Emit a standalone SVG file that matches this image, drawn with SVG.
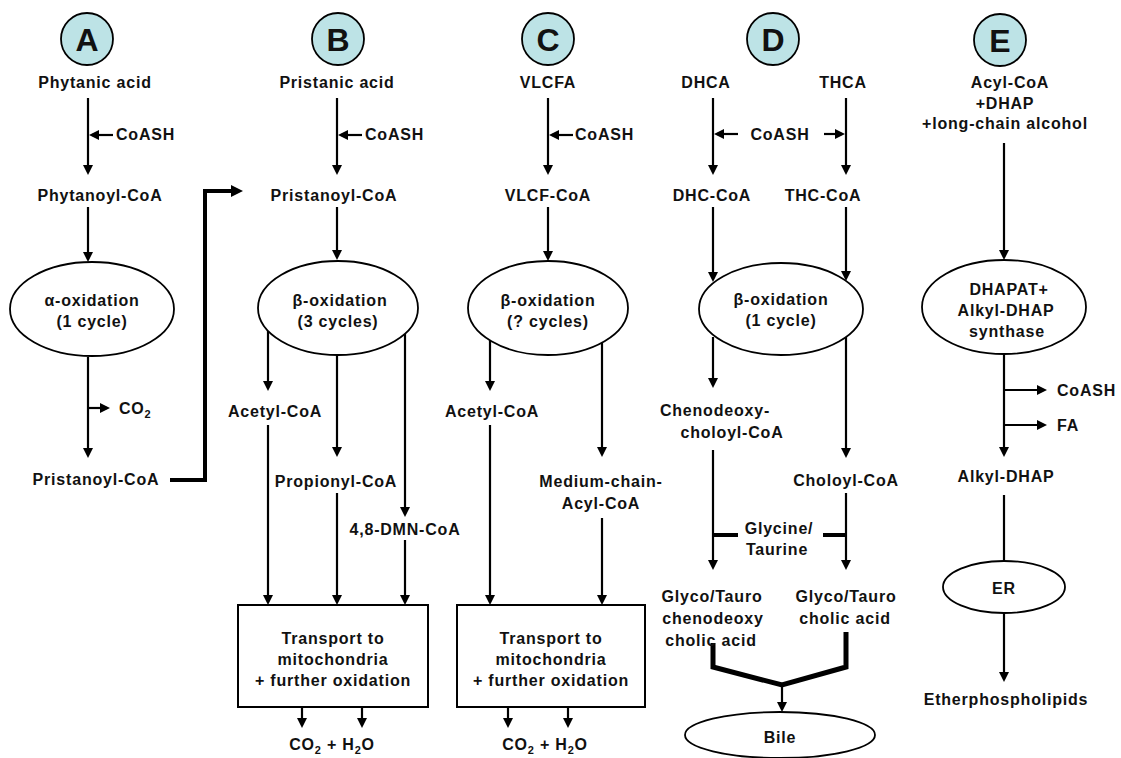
<svg xmlns="http://www.w3.org/2000/svg" width="1121" height="758" viewBox="0 0 1121 758">
<style>
.t{font-family:"Liberation Sans",Arial,Helvetica,sans-serif;font-weight:bold;font-size:16px;letter-spacing:0.8px;text-anchor:middle;fill:#111}
.st{text-anchor:start}
.lt{font-family:"Liberation Sans",Arial,Helvetica,sans-serif;font-weight:bold;font-size:32px;text-anchor:middle;fill:#111}
.ln{stroke:#000;stroke-width:2.2;fill:none}
.ar{marker-end:url(#ah)}
.tk{stroke:#000;stroke-width:4;fill:none}
.tk5{stroke:#000;stroke-width:5;fill:none;stroke-linejoin:miter}
.el{fill:#fff;stroke:#000;stroke-width:1.8}
.bx{fill:#fff;stroke:#000;stroke-width:2}
.lc{fill:#bde3e6;stroke:#000;stroke-width:1.8}
.sub{font-size:11px}
</style>
<defs>
<marker id="ah" viewBox="0 0 10 10" refX="7" refY="5" markerWidth="10" markerHeight="10.5" orient="auto" markerUnits="userSpaceOnUse"><path d="M0,0 L10,5 L0,10 z" fill="#000"/></marker>
<marker id="ahb" viewBox="0 0 12 12" refX="8" refY="6" markerWidth="12" markerHeight="12" orient="auto" markerUnits="userSpaceOnUse"><path d="M0,0 L12,6 L0,12 z" fill="#000"/></marker>
</defs>
<g id="connectors">
<!-- A -->
<path class="ln ar" d="M88,98 V172"/>
<path class="ln ar" d="M113,135 H92"/>
<path class="ln ar" d="M88,207 V259"/>
<path class="ln ar" d="M88,357 V455"/>
<path class="ln ar" d="M88,408 H107"/>
<path class="tk" d="M170,480 H205 V191 H239" marker-end="url(#ahb)"/>
<!-- B -->
<path class="ln ar" d="M337,98 V172"/>
<path class="ln ar" d="M362,135 H341"/>
<path class="ln ar" d="M337,207 V257"/>
<path class="ln ar" d="M268,331 V388"/>
<path class="ln ar" d="M337,355 V454"/>
<path class="ln ar" d="M405,334 V514"/>
<path class="ln ar" d="M268,425 V602"/>
<path class="ln ar" d="M337,493 V602"/>
<path class="ln ar" d="M405,540 V602"/>
<path class="ln ar" d="M302,707 V725"/>
<path class="ln ar" d="M362,707 V725"/>
<!-- C -->
<path class="ln ar" d="M548,98 V172"/>
<path class="ln ar" d="M573,135 H552"/>
<path class="ln ar" d="M548,207 V258"/>
<path class="ln ar" d="M490,340 V388"/>
<path class="ln ar" d="M602,343 V454"/>
<path class="ln ar" d="M490,425 V602"/>
<path class="ln ar" d="M602,518 V602"/>
<path class="ln ar" d="M508,707 V725"/>
<path class="ln ar" d="M568,707 V725"/>
<!-- D -->
<path class="ln ar" d="M713,98 V172"/>
<path class="ln ar" d="M846,98 V172"/>
<path class="ln ar" d="M738,134 H717"/>
<path class="ln ar" d="M824,134 H842"/>
<path class="ln ar" d="M713,207 V279"/>
<path class="ln ar" d="M846,207 V278"/>
<path class="ln ar" d="M713,337 V385"/>
<path class="ln ar" d="M846,337 V455"/>
<path class="ln ar" d="M713,450 V567"/>
<path class="ln ar" d="M846,493 V567"/>
<path class="tk" d="M713,535 H738"/>
<path class="tk" d="M823,535 H846"/>
<path class="tk5" d="M713,643 V667 L782,685 L846,667 V632"/>
<path class="ln ar" d="M782,685 V709"/>
<!-- E -->
<path class="ln ar" d="M1004,143 V257"/>
<path class="ln ar" d="M1004,355 V454"/>
<path class="ln ar" d="M1004,390 H1044"/>
<path class="ln ar" d="M1004,425 H1044"/>
<path class="ln" d="M1004,495 V562"/>
<path class="ln ar" d="M1004,613 V679"/>
</g>
<g id="labelA"><circle class="lc" cx="87" cy="39" r="26"/><text class="lt" x="87" y="51">A</text></g>
<g id="labelB"><circle class="lc" cx="338" cy="39" r="26"/><text class="lt" x="338" y="51">B</text></g>
<g id="labelC"><circle class="lc" cx="548" cy="39" r="26"/><text class="lt" x="548" y="51">C</text></g>
<g id="labelD"><circle class="lc" cx="773" cy="39" r="26"/><text class="lt" x="773" y="51">D</text></g>
<g id="labelE"><circle class="lc" cx="1000" cy="40" r="26"/><text class="lt" x="1000" y="52">E</text></g>
<!-- Column A -->
<g id="phytanic"><text class="t" x="95" y="88">Phytanic acid</text></g>
<g id="coashA"><text class="t st" x="116" y="140">CoASH</text></g>
<g id="phytanoyl"><text class="t" x="100" y="201">Phytanoyl-CoA</text></g>
<g id="alphaox"><ellipse class="el" cx="92" cy="309" rx="82" ry="47"/><text class="t" x="92" y="306">α-oxidation</text><text class="t" x="92" y="327">(1 cycle)</text></g>
<g id="co2A"><text class="t st" x="119" y="414">CO<tspan class="sub" dy="4">2</tspan></text></g>
<g id="pristanoylA"><text class="t" x="96" y="485">Pristanoyl-CoA</text></g>
<!-- Column B -->
<g id="pristanic"><text class="t" x="337" y="88">Pristanic acid</text></g>
<g id="coashB"><text class="t st" x="365" y="140">CoASH</text></g>
<g id="pristanoylB"><text class="t" x="334" y="201">Pristanoyl-CoA</text></g>
<g id="betaB"><ellipse class="el" cx="338" cy="308" rx="80" ry="47"/><text class="t" x="340" y="306">β-oxidation</text><text class="t" x="338" y="327">(3 cycles)</text></g>
<g id="acetylB"><text class="t" x="275" y="417">Acetyl-CoA</text></g>
<g id="propionyl"><text class="t" x="336" y="487">Propionyl-CoA</text></g>
<g id="dmn"><text class="t" x="405" y="535">4,8-DMN-CoA</text></g>
<g id="boxB"><rect class="bx" x="238" y="605" width="190" height="102"/><text class="t" x="333" y="644">Transport to</text><text class="t" x="333" y="665">mitochondria</text><text class="t" x="333" y="686">+ further oxidation</text></g>
<g id="co2h2oB"><text class="t" x="332" y="750">CO<tspan class="sub" dy="4">2</tspan><tspan dy="-4"> + H</tspan><tspan class="sub" dy="4">2</tspan><tspan dy="-4">O</tspan></text></g>
<!-- Column C -->
<g id="vlcfa"><text class="t" x="548" y="88">VLCFA</text></g>
<g id="coashC"><text class="t st" x="575" y="140">CoASH</text></g>
<g id="vlcfcoa"><text class="t" x="548" y="201">VLCF-CoA</text></g>
<g id="betaC"><ellipse class="el" cx="548" cy="308" rx="80" ry="47"/><text class="t" x="548" y="306">β-oxidation</text><text class="t" x="548" y="327">(? cycles)</text></g>
<g id="acetylC"><text class="t" x="492" y="417">Acetyl-CoA</text></g>
<g id="mediumchain"><text class="t" x="601" y="487">Medium-chain-</text><text class="t" x="601" y="509">Acyl-CoA</text></g>
<g id="boxC"><rect class="bx" x="457" y="605" width="188" height="102"/><text class="t" x="551" y="644">Transport to</text><text class="t" x="551" y="665">mitochondria</text><text class="t" x="551" y="686">+ further oxidation</text></g>
<g id="co2h2oC"><text class="t" x="545" y="750">CO<tspan class="sub" dy="4">2</tspan><tspan dy="-4"> + H</tspan><tspan class="sub" dy="4">2</tspan><tspan dy="-4">O</tspan></text></g>
<!-- Column D -->
<g id="dhca"><text class="t" x="706" y="88">DHCA</text></g>
<g id="thca"><text class="t" x="843" y="88">THCA</text></g>
<g id="coashD"><text class="t" x="780" y="140">CoASH</text></g>
<g id="dhccoa"><text class="t" x="712" y="201">DHC-CoA</text></g>
<g id="thccoa"><text class="t" x="823" y="201">THC-CoA</text></g>
<g id="betaD"><ellipse class="el" cx="781" cy="309" rx="82" ry="46"/><text class="t" x="781" y="305">β-oxidation</text><text class="t" x="781" y="326">(1 cycle)</text></g>
<g id="chenodeoxycholoyl"><text class="t" x="715" y="416">Chenodeoxy-</text><text class="t" x="732" y="438">choloyl-CoA</text></g>
<g id="choloyl"><text class="t" x="846" y="486">Choloyl-CoA</text></g>
<g id="glycine"><text class="t" x="779" y="534">Glycine/</text><text class="t" x="777" y="555">Taurine</text></g>
<g id="glycochenodeoxy"><text class="t" x="712" y="602">Glyco/Tauro</text><text class="t" x="713" y="624">chenodeoxy</text><text class="t" x="711" y="646">cholic acid</text></g>
<g id="glycocholic"><text class="t" x="846" y="602">Glyco/Tauro</text><text class="t" x="845" y="624">cholic acid</text></g>
<g id="bile"><ellipse class="el" cx="780" cy="735" rx="95" ry="23"/><text class="t" x="780" y="743">Bile</text></g>
<!-- Column E -->
<g id="substratesE"><text class="t" x="1010" y="88">Acyl-CoA</text><text class="t" x="1005" y="109">+DHAP</text><text class="t" x="1005" y="129">+long-chain alcohol</text></g>
<g id="dhapat"><ellipse class="el" cx="1004" cy="307" rx="82" ry="47"/><text class="t" x="1009" y="295">DHAPAT+</text><text class="t" x="1006" y="316">Alkyl-DHAP</text><text class="t" x="1007" y="337">synthase</text></g>
<g id="coashE"><text class="t st" x="1057" y="396">CoASH</text></g>
<g id="fa"><text class="t st" x="1057" y="431">FA</text></g>
<g id="alkyldhap"><text class="t" x="1006" y="482">Alkyl-DHAP</text></g>
<g id="er"><ellipse class="el" cx="1004" cy="587" rx="61" ry="26"/><text class="t" x="1004" y="594">ER</text></g>
<g id="etherpl"><text class="t" x="1006" y="705">Etherphospholipids</text></g>
</svg>
